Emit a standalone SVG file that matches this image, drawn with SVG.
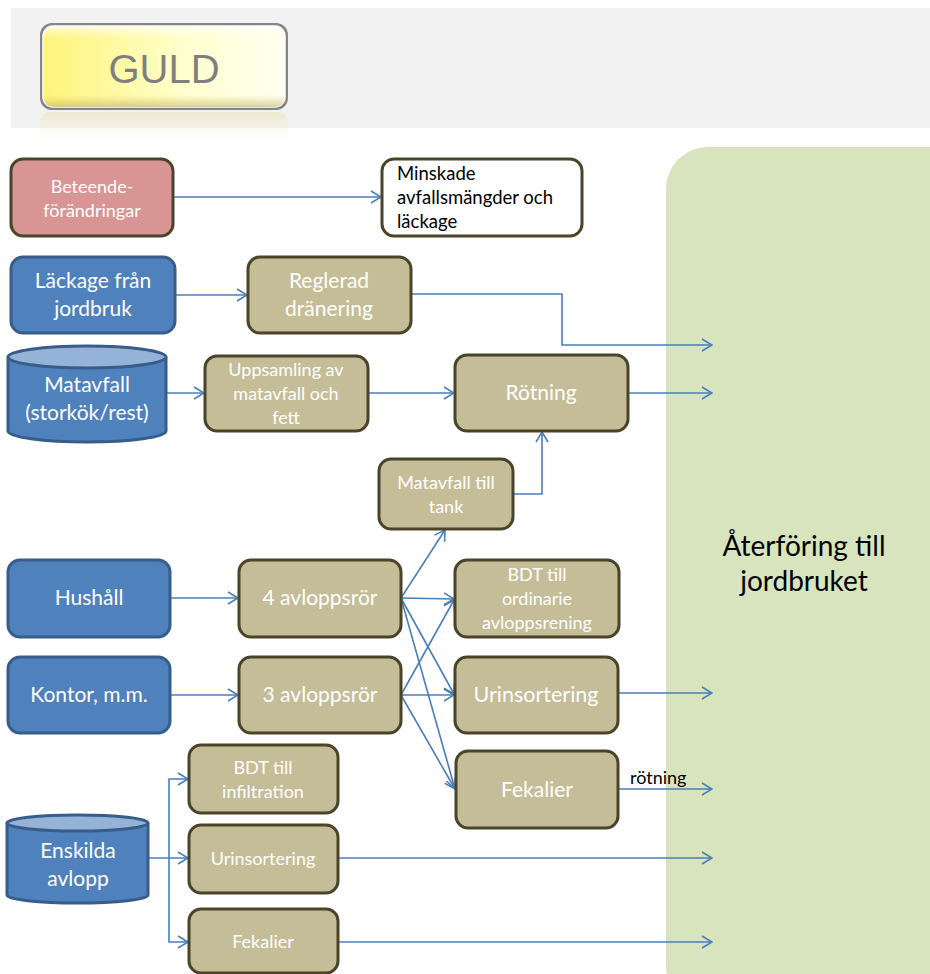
<svg xmlns="http://www.w3.org/2000/svg" width="930" height="974" viewBox="0 0 930 974">
  <defs>
    <linearGradient id="gold" x1="0" y1="0" x2="1" y2="0">
      <stop offset="0" stop-color="#fff47a"/>
      <stop offset="0.6" stop-color="#ffffcf"/>
      <stop offset="1" stop-color="#fffff0"/>
    </linearGradient>
    <linearGradient id="goldShade" x1="0" y1="0" x2="0" y2="1">
      <stop offset="0" stop-color="#ffffff" stop-opacity="0.7"/>
      <stop offset="0.15" stop-color="#ffffff" stop-opacity="0"/>
      <stop offset="0.85" stop-color="#c8b860" stop-opacity="0"/>
      <stop offset="1" stop-color="#b0a050" stop-opacity="0.5"/>
    </linearGradient>
    <linearGradient id="reflect" x1="0" y1="0" x2="0" y2="1">
      <stop offset="0" stop-color="#e8e2b0" stop-opacity="0.8"/>
      <stop offset="1" stop-color="#ffffff" stop-opacity="0"/>
    </linearGradient>
    <marker id="arrow" viewBox="0 0 12 14" refX="11" refY="7" markerWidth="12" markerHeight="14" markerUnits="userSpaceOnUse" orient="auto">
      <path d="M1,1 L11,7 L1,13" fill="none" stroke="#4a7ebb" stroke-width="1.6"/>
    </marker>
    <style>
      .box { stroke-width: 3; }
      .pink { fill: #d99594; stroke: #4a452a; }
      .blue { fill: #4f81bd; stroke: #385d8a; }
      .olive { fill: #c4bd97; stroke: #4a452a; }
      .white { fill: #ffffff; stroke: #4a452a; }
      .cyltop { fill: #95b3d7; stroke: #385d8a; stroke-width: 3; }
      .t { font-family: Lato, "Open Sans", "Liberation Sans", sans-serif; fill: #ffffff; text-anchor: middle; }
      .left { text-anchor: start; }
      .dark { fill: #000000; }
      .s18 { font-size: 18px; }
      .s21 { font-size: 21px; }
      .s22 { font-size: 21.5px; }
      .conn path { fill: none; stroke: #4a7ebb; stroke-width: 1.6; }
    </style>
  </defs>

  <!-- header band with level badge -->
  <rect x="11" y="8" width="919" height="120" fill="#f2f2f2"/>
  <g id="guld">
    <rect x="40" y="112" width="248" height="36" rx="10" fill="url(#reflect)" opacity="0.7"/>
    <rect x="40" y="23" width="248" height="87" rx="12" fill="#858585"/>
    <rect x="43" y="26" width="242" height="81" rx="10" fill="url(#gold)" stroke="#ffffff" stroke-width="1.5"/>
    <rect x="43" y="26" width="242" height="81" rx="10" fill="url(#goldShade)"/>
    <text x="164" y="83" font-family="'Liberation Sans', Arial, sans-serif" font-size="40" fill="#7f7f7f" text-anchor="middle">GULD</text>
  </g>

  <!-- destination area -->
  <g id="aterforing">
    <rect x="666" y="147" width="320" height="860" rx="42" fill="#d7e4bd"/>
    <text class="t dark" x="804" y="556" font-size="28">Återföring till</text>
    <text class="t dark" x="804" y="591" font-size="28">jordbruket</text>
  </g>

  <!-- connectors -->
  <g id="connectors" class="conn">
    <path d="M173,197 H381" marker-end="url(#arrow)"/>
    <path d="M175,295 H247" marker-end="url(#arrow)"/>
    <path d="M411,294 H562 V345 H712" marker-end="url(#arrow)"/>
    <path d="M166,393 H204" marker-end="url(#arrow)"/>
    <path d="M368,393 H454" marker-end="url(#arrow)"/>
    <path d="M628,393 H712" marker-end="url(#arrow)"/>
    <path d="M513,494 H542 V432" marker-end="url(#arrow)"/>
    <path d="M170,598 H238" marker-end="url(#arrow)"/>
    <path d="M170,695 H238" marker-end="url(#arrow)"/>
    <path d="M401,598 L445,530" marker-end="url(#arrow)"/>
    <path d="M401,598 L454,599" marker-end="url(#arrow)"/>
    <path d="M401,598 L454,694" marker-end="url(#arrow)"/>
    <path d="M401,598 L455,789" marker-end="url(#arrow)"/>
    <path d="M401,695 L454,600" marker-end="url(#arrow)"/>
    <path d="M401,695 L454,695" marker-end="url(#arrow)"/>
    <path d="M401,695 L455,789" marker-end="url(#arrow)"/>
    <path d="M618,693 H712" marker-end="url(#arrow)"/>
    <path d="M618,789 H712" marker-end="url(#arrow)"/>
    <path d="M148,858 H188" marker-end="url(#arrow)"/>
    <path d="M169,858 V779 H188" marker-end="url(#arrow)"/>
    <path d="M169,858 V942 H188" marker-end="url(#arrow)"/>
    <path d="M338,858 H712" marker-end="url(#arrow)"/>
    <path d="M338,942 H712" marker-end="url(#arrow)"/>
  </g>
  <text class="t dark left s18" x="630" y="784">rötning</text>

  <g id="beteende">
    <rect class="box pink" x="11" y="159" width="162" height="77" rx="12"/>
    <text class="t s18" x="92" y="193">Beteende-</text>
    <text class="t s18" x="92" y="217">förändringar</text>
  </g>
  <g id="minskade">
    <rect class="box white" x="382" y="159" width="200" height="77" rx="12"/>
    <text class="t dark left" font-size="18.5" x="397" y="180">Minskade</text>
    <text class="t dark left" font-size="18.5" x="397" y="204">avfallsmängder och</text>
    <text class="t dark left" font-size="18.5" x="397" y="228">läckage</text>
  </g>
  <g id="lackage">
    <rect class="box blue" x="11" y="257" width="164" height="76" rx="12"/>
    <text class="t s21" x="93" y="288">Läckage från</text>
    <text class="t s21" x="93" y="316">jordbruk</text>
  </g>
  <g id="reglerad">
    <rect class="box olive" x="248" y="257" width="163" height="76" rx="12"/>
    <text class="t s21" x="329" y="288">Reglerad</text>
    <text class="t s21" x="329" y="316">dränering</text>
  </g>
  <g id="matavfall">
    <path class="box blue" d="M8,357 V431 A79,11 0 0 0 166,431 V357"/>
    <ellipse class="cyltop" cx="87" cy="357" rx="79" ry="11"/>
    <text class="t s21" x="87" y="392">Matavfall</text>
    <text class="t s21" x="87" y="420">(storkök/rest)</text>
  </g>
  <g id="uppsamling">
    <rect class="box olive" x="205" y="356" width="163" height="75" rx="12"/>
    <text class="t s18" x="286" y="376">Uppsamling av</text>
    <text class="t s18" x="286" y="400">matavfall och</text>
    <text class="t s18" x="286" y="424">fett</text>
  </g>
  <g id="rotning">
    <rect class="box olive" x="455" y="355" width="173" height="76" rx="12"/>
    <text class="t s21" x="541" y="400">Rötning</text>
  </g>
  <g id="tank">
    <rect class="box olive" x="379" y="459" width="134" height="70" rx="12"/>
    <text class="t s18" x="446" y="489">Matavfall till</text>
    <text class="t s18" x="446" y="513">tank</text>
  </g>
  <g id="hushall">
    <rect class="box blue" x="8" y="560" width="162" height="77" rx="12"/>
    <text class="t s21" x="89" y="605">Hushåll</text>
  </g>
  <g id="kontor">
    <rect class="box blue" x="8" y="657" width="162" height="76" rx="12"/>
    <text class="t s21" x="89" y="702">Kontor, m.m.</text>
  </g>
  <g id="avlopp4">
    <rect class="box olive" x="239" y="560" width="162" height="77" rx="12"/>
    <text class="t s21" x="320" y="605">4 avloppsrör</text>
  </g>
  <g id="avlopp3">
    <rect class="box olive" x="239" y="657" width="162" height="76" rx="12"/>
    <text class="t s21" x="320" y="702">3 avloppsrör</text>
  </g>
  <g id="bdt-ordinarie">
    <rect class="box olive" x="455" y="560" width="164" height="77" rx="12"/>
    <text class="t s18" x="537" y="581">BDT till</text>
    <text class="t s18" x="537" y="605">ordinarie</text>
    <text class="t s18" x="537" y="629">avloppsrening</text>
  </g>
  <g id="urinsortering">
    <rect class="box olive" x="455" y="657" width="163" height="76" rx="12"/>
    <text class="t s22" x="536" y="702">Urinsortering</text>
  </g>
  <g id="fekalier">
    <rect class="box olive" x="456" y="751" width="162" height="77" rx="12"/>
    <text class="t s21" x="537" y="797">Fekalier</text>
  </g>
  <g id="enskilda">
    <path class="box blue" d="M7,823 V895 A70,8 0 0 0 148,895 V823"/>
    <ellipse class="cyltop" cx="77.5" cy="823" rx="70.5" ry="8"/>
    <text class="t s21" x="78" y="858">Enskilda</text>
    <text class="t s21" x="78" y="886">avlopp</text>
  </g>
  <g id="bdt-infiltration">
    <rect class="box olive" x="189" y="745" width="149" height="68" rx="12"/>
    <text class="t s18" x="263" y="774">BDT till</text>
    <text class="t s18" x="263" y="798">infiltration</text>
  </g>
  <g id="urinsortering-enskild">
    <rect class="box olive" x="189" y="825" width="149" height="68" rx="12"/>
    <text class="t s18" x="263" y="865">Urinsortering</text>
  </g>
  <g id="fekalier-enskild">
    <rect class="box olive" x="189" y="909" width="149" height="64" rx="12"/>
    <text class="t s18" x="263" y="948">Fekalier</text>
  </g>
</svg>
